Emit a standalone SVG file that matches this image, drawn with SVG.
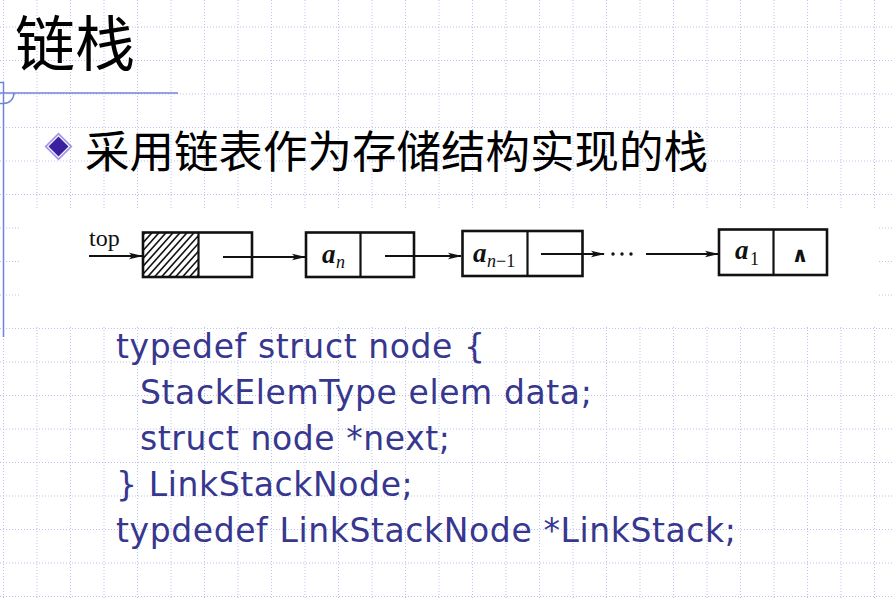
<svg xmlns="http://www.w3.org/2000/svg" width="894" height="600" viewBox="0 0 894 600">
<defs>
<style>
.grid line{stroke:#b9c2ee;stroke-width:1;stroke-dasharray:1 2}
.accent{stroke:#6f83dc;stroke-width:1.5;fill:none}
.box{fill:none;stroke:#111;stroke-width:2.6}
.conn{stroke:#111;stroke-width:2;fill:none;marker-end:url(#ah)}
.serif{font-family:"Liberation Serif","DejaVu Serif",serif;fill:#111}
.code{font-family:"DejaVu Sans","Liberation Sans",sans-serif;font-size:33px;letter-spacing:0.6px;fill:#37378f}
.cjk{font-family:"Noto Sans CJK SC",sans-serif;fill:#000}
</style>
<marker id="ah" markerWidth="14" markerHeight="8" refX="13" refY="4" orient="auto" markerUnits="userSpaceOnUse">
<path d="M0 0.8 L14 4 L0 7.2 L3 4 Z" fill="#111"/>
</marker>
<clipPath id="hc"><rect x="143" y="233" width="55" height="43"/></clipPath>
</defs>
<rect width="894" height="600" fill="#fff"/>
<g class="grid">
<line x1="3.5" y1="0" x2="3.5" y2="600"/><line x1="37" y1="0" x2="37" y2="600"/><line x1="70.5" y1="0" x2="70.5" y2="600"/><line x1="104" y1="0" x2="104" y2="600"/><line x1="137.5" y1="0" x2="137.5" y2="600"/><line x1="171" y1="0" x2="171" y2="600"/><line x1="204.5" y1="0" x2="204.5" y2="600"/><line x1="238" y1="0" x2="238" y2="600"/><line x1="271.5" y1="0" x2="271.5" y2="600"/><line x1="305" y1="0" x2="305" y2="600"/><line x1="338.5" y1="0" x2="338.5" y2="600"/><line x1="372" y1="0" x2="372" y2="600"/><line x1="405.5" y1="0" x2="405.5" y2="600"/><line x1="439" y1="0" x2="439" y2="600"/><line x1="472.5" y1="0" x2="472.5" y2="600"/><line x1="506" y1="0" x2="506" y2="600"/><line x1="539.5" y1="0" x2="539.5" y2="600"/><line x1="573" y1="0" x2="573" y2="600"/><line x1="606.5" y1="0" x2="606.5" y2="600"/><line x1="640" y1="0" x2="640" y2="600"/><line x1="673.5" y1="0" x2="673.5" y2="600"/><line x1="707" y1="0" x2="707" y2="600"/><line x1="740.5" y1="0" x2="740.5" y2="600"/><line x1="774" y1="0" x2="774" y2="600"/><line x1="807.5" y1="0" x2="807.5" y2="600"/><line x1="841" y1="0" x2="841" y2="600"/><line x1="874.5" y1="0" x2="874.5" y2="600"/>
<line x1="0" y1="27" x2="894" y2="27"/><line x1="0" y1="60.5" x2="894" y2="60.5"/><line x1="0" y1="94" x2="894" y2="94"/><line x1="0" y1="127.5" x2="894" y2="127.5"/><line x1="0" y1="161" x2="894" y2="161"/><line x1="0" y1="194.5" x2="894" y2="194.5"/><line x1="0" y1="228" x2="894" y2="228"/><line x1="0" y1="261.5" x2="894" y2="261.5"/><line x1="0" y1="295" x2="894" y2="295"/><line x1="0" y1="328.5" x2="894" y2="328.5"/><line x1="0" y1="362" x2="894" y2="362"/><line x1="0" y1="395.5" x2="894" y2="395.5"/><line x1="0" y1="429" x2="894" y2="429"/><line x1="0" y1="462.5" x2="894" y2="462.5"/><line x1="0" y1="496" x2="894" y2="496"/><line x1="0" y1="529.5" x2="894" y2="529.5"/><line x1="0" y1="563" x2="894" y2="563"/><line x1="0" y1="596.5" x2="894" y2="596.5"/>
</g>
<g id="accent">
<path class="accent" d="M0 82.5 H3.5 V337"/>
<path class="accent" d="M0 93 H178"/>
<path class="accent" d="M0 103.5 H3.5 A10.5 10.5 0 0 0 14 93"/>
</g>
<text id="title" class="cjk" x="15" y="66" font-size="60">链栈</text>
<g id="bullet">
<polygon points="58.5,132.5 72.5,146.5 58.5,160.5 44.5,146.5" fill="#a596e6"/>
<polygon points="58.5,135 70,146.5 58.5,158 47,146.5" fill="#fff"/>
<polygon points="58.5,136.5 68.5,146.5 58.5,156.5 48.5,146.5" fill="#3a20a0"/>
</g>
<text id="subtitle" class="cjk" x="85" y="168" font-size="44.5">采用链表作为存储结构实现的栈</text>
<rect x="19" y="208" width="859" height="118" fill="#fff"/>
<g id="top"><text class="serif" x="89" y="246" font-size="24">top</text></g>
<g id="node0">
<g clip-path="url(#hc)" stroke="#111" stroke-width="1.6">
<line x1="136" y1="282" x2="186" y2="226"/><line x1="143" y1="282" x2="193" y2="226"/><line x1="150" y1="282" x2="200" y2="226"/><line x1="157" y1="282" x2="207" y2="226"/><line x1="164" y1="282" x2="214" y2="226"/><line x1="171" y1="282" x2="221" y2="226"/><line x1="178" y1="282" x2="228" y2="226"/><line x1="185" y1="282" x2="235" y2="226"/><line x1="192" y1="282" x2="242" y2="226"/><line x1="129" y1="282" x2="179" y2="226"/><line x1="122" y1="282" x2="172" y2="226"/><line x1="115" y1="282" x2="165" y2="226"/><line x1="108" y1="282" x2="158" y2="226"/><line x1="101" y1="282" x2="151" y2="226"/>
</g>
<rect class="box" x="143" y="232.5" width="109" height="44.5"/>
<line x1="198.5" y1="232.5" x2="198.5" y2="277" stroke="#111" stroke-width="2.2"/>
</g>
<g id="node1">
<rect class="box" x="306" y="232.5" width="108" height="44.5"/>
<line x1="360.5" y1="232.5" x2="360.5" y2="277" stroke="#111" stroke-width="2.2"/>
<text class="serif" x="322" y="263" font-size="27" font-style="italic" font-weight="bold">a</text>
<text class="serif" x="336" y="268" font-size="18" font-style="italic">n</text>
</g>
<g id="node2">
<rect class="box" x="462.5" y="231" width="120" height="45"/>
<line x1="527.5" y1="231" x2="527.5" y2="276" stroke="#111" stroke-width="2.2"/>
<text class="serif" x="473" y="262" font-size="27" font-style="italic" font-weight="bold">a</text>
<text class="serif" x="487" y="267" font-size="18" font-style="italic">n<tspan font-style="normal">−1</tspan></text>
</g>
<g id="node3">
<rect class="box" x="719" y="229.5" width="108" height="45.5"/>
<line x1="773.5" y1="229.5" x2="773.5" y2="275" stroke="#111" stroke-width="2.2"/>
<text class="serif" x="735" y="259" font-size="27" font-style="italic" font-weight="bold">a</text>
<text class="serif" x="750" y="265" font-size="18">1</text>
<text x="800" y="262" font-size="21" font-weight="bold" font-family="DejaVu Sans,sans-serif" text-anchor="middle" fill="#111">∧</text>
</g>
<g id="connectors">
<line class="conn" x1="89" y1="256" x2="142" y2="256"/>
<line class="conn" x1="223" y1="257" x2="305" y2="257"/>
<line class="conn" x1="385" y1="256" x2="461" y2="256"/>
<line class="conn" x1="541" y1="254" x2="604" y2="254"/>
<line class="conn" x1="646" y1="254" x2="718" y2="254"/>
<g fill="#111"><circle cx="613" cy="254" r="1.7"/><circle cx="622" cy="254" r="1.7"/><circle cx="631" cy="254" r="1.7"/></g>
</g>
<g id="code" class="code">
<text x="116" y="358">typedef struct node {</text>
<text x="140" y="404">StackElemType elem data;</text>
<text x="140" y="450">struct node *next;</text>
<text x="116" y="496">} LinkStackNode;</text>
<text x="116" y="542">typdedef LinkStackNode *LinkStack;</text>
</g>
</svg>
